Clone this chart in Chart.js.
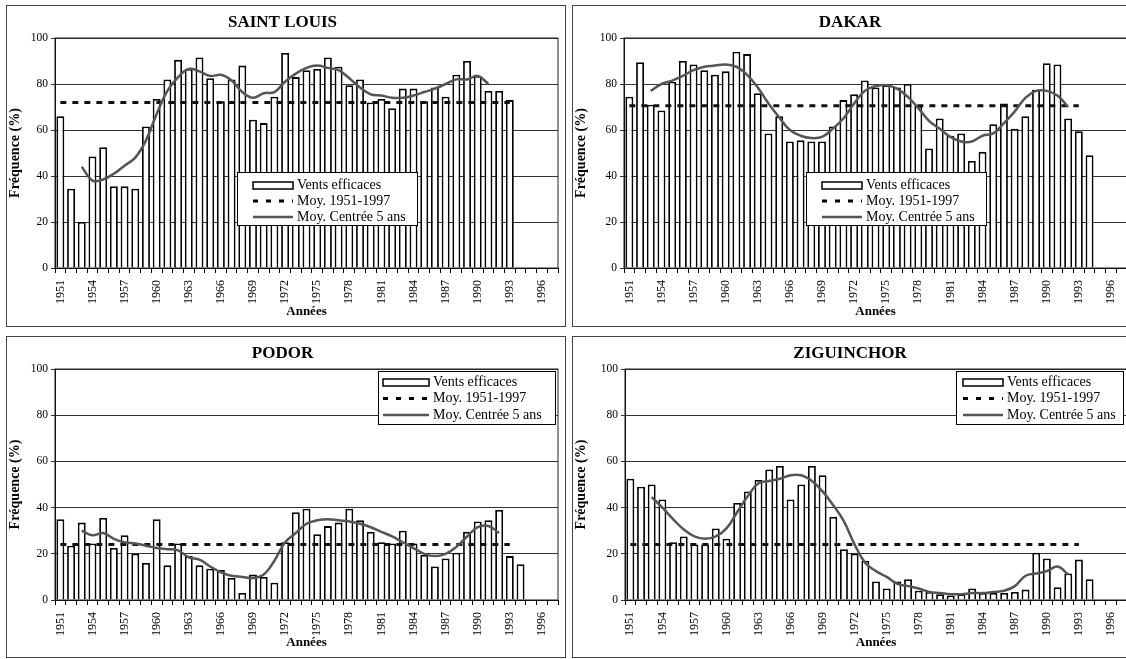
<!DOCTYPE html>
<html>
<head>
<meta charset="utf-8">
<script src="https://cdn.jsdelivr.net/npm/chart.js@4.4.0/dist/chart.umd.min.js"></script>
<style>
  body { margin: 0; background: #fff; width: 1126px; height: 659px; overflow: hidden; position: relative; }
  .panel { position: absolute; border: 1px solid #444; box-sizing: border-box; background: #fff; }
  .panel div { position: relative; width: 100%; height: 100%; }
</style>
</head>
<body>
<div class="panel" style="left:6px;top:5px;width:560px;height:322px"><div><canvas id="stlouis"></canvas></div></div>
<div class="panel" style="left:572px;top:5px;width:562px;height:322px"><div><canvas id="dakar"></canvas></div></div>
<div class="panel" style="left:6px;top:336px;width:560px;height:322px"><div><canvas id="podor"></canvas></div></div>
<div class="panel" style="left:572px;top:336px;width:562px;height:322px"><div><canvas id="ziguinchor"></canvas></div></div>

<script>
// Années 1951-1997
const years = [1951, 1952, 1953, 1954, 1955, 1956, 1957, 1958, 1959, 1960,
  1961, 1962, 1963, 1964, 1965, 1966, 1967, 1968, 1969, 1970,
  1971, 1972, 1973, 1974, 1975, 1976, 1977, 1978, 1979, 1980,
  1981, 1982, 1983, 1984, 1985, 1986, 1987, 1988, 1989, 1990,
  1991, 1992, 1993, 1994, 1995, 1996, 1997];

// Fréquence des vents efficaces (%), à partir de 1951
const stLouisBars = [66, 34.5, 20, 48.5, 52.5, 35.5, 35.5, 34.5, 61.5, 73.5,
  82, 90.5, 86.5, 91.5, 82.5, 72.5, 82, 88, 64.5, 63,
  74.5, 93.5, 83, 86, 86.5, 91.5, 87.5, 79.5, 82, 72,
  73.5, 69.5, 78, 78, 72.5, 78.5, 74.5, 84, 90, 83.5,
  77, 77, 73];
const dakarBars = [74.5, 89.5, 71, 68.5, 81, 90, 88.5, 86, 84, 85.5,
  94, 93, 76, 58.5, 66, 55, 55.5, 55, 55, 61.5,
  73, 75.5, 81.5, 78.5, 79.5, 78.5, 80, 70.5, 52, 65,
  57.5, 58.5, 46.5, 50.5, 62.5, 71.5, 60.5, 66, 77.5, 89,
  88.5, 65, 59.5, 49];
const podorBars = [35, 23.5, 33.5, 24.5, 35.5, 22.5, 28, 20, 16, 35,
  15, 24.5, 19, 15, 13.5, 13, 9.5, 3, 11, 10,
  7.5, 25, 38, 39.5, 28.5, 32, 33.5, 39.5, 34.5, 29.5,
  25, 24.5, 30, 24.5, 19.5, 14.5, 18, 20.5, 29.5, 34,
  34.5, 39, 19, 15.5];
const zigBars = [52.5, 49, 50, 43.5, 25, 27.5, 24, 24, 31, 26.5,
  42, 47, 52, 56.5, 58, 43.5, 50, 58, 54, 36,
  22, 20, 17, 8, 5, 8, 9, 4, 3.5, 2.5,
  2, 2.5, 5, 3, 3, 3, 3.5, 4.5, 20.5, 18,
  5.5, 11.5, 17.5, 9];

// Moyenne centrée 5 ans, à partir de 1953
const stLouisMA = [44, 38, 38.5, 41, 44.5, 48, 55.5, 67, 77, 83,
  86.5, 85.5, 83.5, 84, 81.5, 76.5, 74, 76, 76.5, 81,
  84.5, 87, 88, 87, 86, 82.5, 78.5, 75.5, 75, 74,
  74, 75, 76.5, 78, 80, 82, 82, 83.5, 80];
const dakarMA = [77, 80, 81.5, 83.5, 86, 87.5, 88, 88.5, 87.5, 84,
  78.5, 71.5, 65.5, 60, 57.5, 56.5, 57, 60.5, 65, 71.5,
  77, 79, 79.5, 78, 74.5, 69.5, 64, 60.5, 57, 55,
  55, 57.5, 58.5, 63, 68, 74, 77, 77, 75, 70];
const podorMA = [30, 28, 29, 26.5, 25, 24.5, 23.5, 22.5, 22, 21.5,
  18.5, 17.5, 14.5, 12, 10.5, 10, 9.5, 11, 17, 25,
  29, 33, 34.5, 35, 34.5, 34, 33, 31.5, 29.5, 27.5,
  25, 22.5, 20, 19, 20, 23, 27.5, 31.5, 32, 29];
const zigMA = [44.5, 40, 35, 30.5, 27.5, 26.5, 27.5, 31, 38, 45,
  50.5, 51.5, 52.5, 54, 54, 51.5, 47, 41, 34, 24,
  16, 12.5, 10, 7, 6, 5, 3.5, 3, 2.5, 2.5,
  3, 3, 3.5, 4, 6, 10.5, 11.5, 12.5, 14.5, 11];

// Moy. 1951-1997
const stLouisMean = 72;
const dakarMean = 70.5;
const podorMean = 24;
const zigMean = 24;
const meanEndYear = 1993;

const serif = '"Liberation Serif", "Times New Roman", serif';

// cadre de la zone de tracé + légende encadrée
const frameLegend = {
  id: 'frameLegend',
  afterDraw(chart, args, opts) {
    const ctx = chart.ctx;
    const a = chart.chartArea;
    ctx.save();
    ctx.strokeStyle = '#222';
    ctx.lineWidth = 1;
    ctx.strokeRect(a.left, a.top, a.right - a.left, a.bottom - a.top);

    const x = a.left + opts.x, y = a.top + opts.y;
    ctx.fillStyle = '#fff';
    ctx.fillRect(x, y, opts.w, opts.h);
    ctx.strokeStyle = '#000';
    ctx.strokeRect(x + 0.5, y + 0.5, opts.w, opts.h);

    const sx = x + opts.symX, sw = opts.symW, tx = sx + sw + 4;
    const rows = [y + opts.row0, y + opts.row0 + opts.rowH, y + opts.row0 + 2 * opts.rowH];
    // barre
    ctx.lineWidth = 1.5;
    ctx.strokeRect(sx, rows[0] - 3, sw, 7);
    // pointillés
    ctx.beginPath();
    ctx.setLineDash([5, 8]);
    ctx.lineWidth = 3;
    ctx.moveTo(sx, rows[1]);
    ctx.lineTo(sx + sw, rows[1]);
    ctx.stroke();
    ctx.setLineDash([]);
    // moyenne mobile
    ctx.beginPath();
    ctx.strokeStyle = '#555';
    ctx.lineWidth = 2.5;
    ctx.moveTo(sx, rows[2]);
    ctx.lineTo(sx + sw, rows[2]);
    ctx.stroke();

    ctx.fillStyle = '#000';
    ctx.font = '14px ' + serif;
    ctx.textBaseline = 'middle';
    ctx.fillText('Vents efficaces', tx, rows[0]);
    ctx.fillText('Moy. 1951-1997', tx, rows[1]);
    ctx.fillText('Moy. Centrée 5 ans', tx, rows[2]);
    ctx.restore();
  }
};

function makeChart(id, title, bars, ma, mean, geo, legend) {
  const meanLine = years.map(y => (y <= meanEndYear ? mean : null));
  new Chart(document.getElementById(id), {
    type: 'bar',
    data: {
      labels: years,
      datasets: [
        {
          type: 'line',
          label: 'Moy. Centrée 5 ans',
          data: [null, null, ...ma],
          borderColor: '#555',
          borderWidth: 2.5,
          pointRadius: 0,
          tension: 0.4,
          order: 1
        },
        {
          type: 'line',
          label: 'Moy. 1951-1997',
          data: meanLine,
          borderColor: '#111',
          borderWidth: 3,
          borderDash: [6, 6],
          pointRadius: 0,
          order: 2
        },
        {
          label: 'Vents efficaces',
          data: bars,
          backgroundColor: '#fff',
          borderColor: '#000',
          borderWidth: 1.8,
          barPercentage: 0.74,
          categoryPercentage: 1,
          order: 3
        }
      ]
    },
    options: {
      responsive: true,
      maintainAspectRatio: false,
      animation: false,
      layout: { padding: { left: 0, right: geo.padRight, top: 0, bottom: 0 } },
      plugins: {
        legend: { display: false },
        tooltip: { enabled: false },
        title: {
          display: true,
          text: title,
          color: '#000',
          font: { family: serif, size: 17, weight: 'bold' },
          padding: { top: 6, bottom: 5.6 }
        },
        frameLegend: legend
      },
      scales: {
        x: {
          grid: { drawOnChartArea: false, drawTicks: true, tickLength: 5, color: '#000' },
          border: { color: '#000', width: 1 },
          ticks: {
            autoSkip: false,
            maxRotation: 90,
            minRotation: 90,
            padding: 7,
            color: '#000',
            font: { family: serif, size: 12 },
            callback: (v, i) => (i % 3 === 0 ? years[i] : '')
          },
          title: {
            display: true,
            text: 'Années',
            color: '#000',
            font: { family: serif, size: 13, weight: 'bold' },
            padding: { top: 0, bottom: 7 }
          },
          afterFit: s => {
            s.height = geo.xHeight;
            s.paddingLeft = 0;
            s.paddingRight = 0;
          }
        },
        y: {
          min: 0,
          max: 100,
          ticks: {
            stepSize: 20,
            color: '#000',
            padding: 3,
            font: { family: serif, size: 11.5 }
          },
          grid: { color: '#333', lineWidth: 1, tickLength: 4 },
          border: { color: '#000', width: 1 },
          title: {
            display: true,
            text: 'Fréquence (%)',
            color: '#000',
            font: { family: serif, size: 14, weight: 'bold' },
            padding: { top: 0, bottom: 0 }
          },
          afterFit: s => { s.width = geo.yWidth; }
        }
      }
    },
    plugins: [frameLegend]
  });
}

const legendMid = { x: 182, y: 134, w: 180, h: 53, symX: 16, symW: 40, row0: 13, rowH: 16 };
const legendTop = { x: 323, y: 2, w: 177, h: 53, symX: 5, symW: 46, row0: 11, rowH: 16.5 };

makeChart('stlouis', 'SAINT LOUIS', stLouisBars, stLouisMA, stLouisMean,
  { yWidth: 48, padRight: 7, xHeight: 58 }, legendMid);
makeChart('dakar', 'DAKAR', dakarBars, dakarMA, dakarMean,
  { yWidth: 51, padRight: 6, xHeight: 58 }, legendMid);
makeChart('podor', 'PODOR', podorBars, podorMA, podorMean,
  { yWidth: 48, padRight: 7, xHeight: 57 }, legendTop);
makeChart('ziguinchor', 'ZIGUINCHOR', zigBars, zigMA, zigMean,
  { yWidth: 52, padRight: 6, xHeight: 57 },
  Object.assign({}, legendTop, { x: 331, w: 167, symX: 7, symW: 40 }));
</script>
</body>
</html>
